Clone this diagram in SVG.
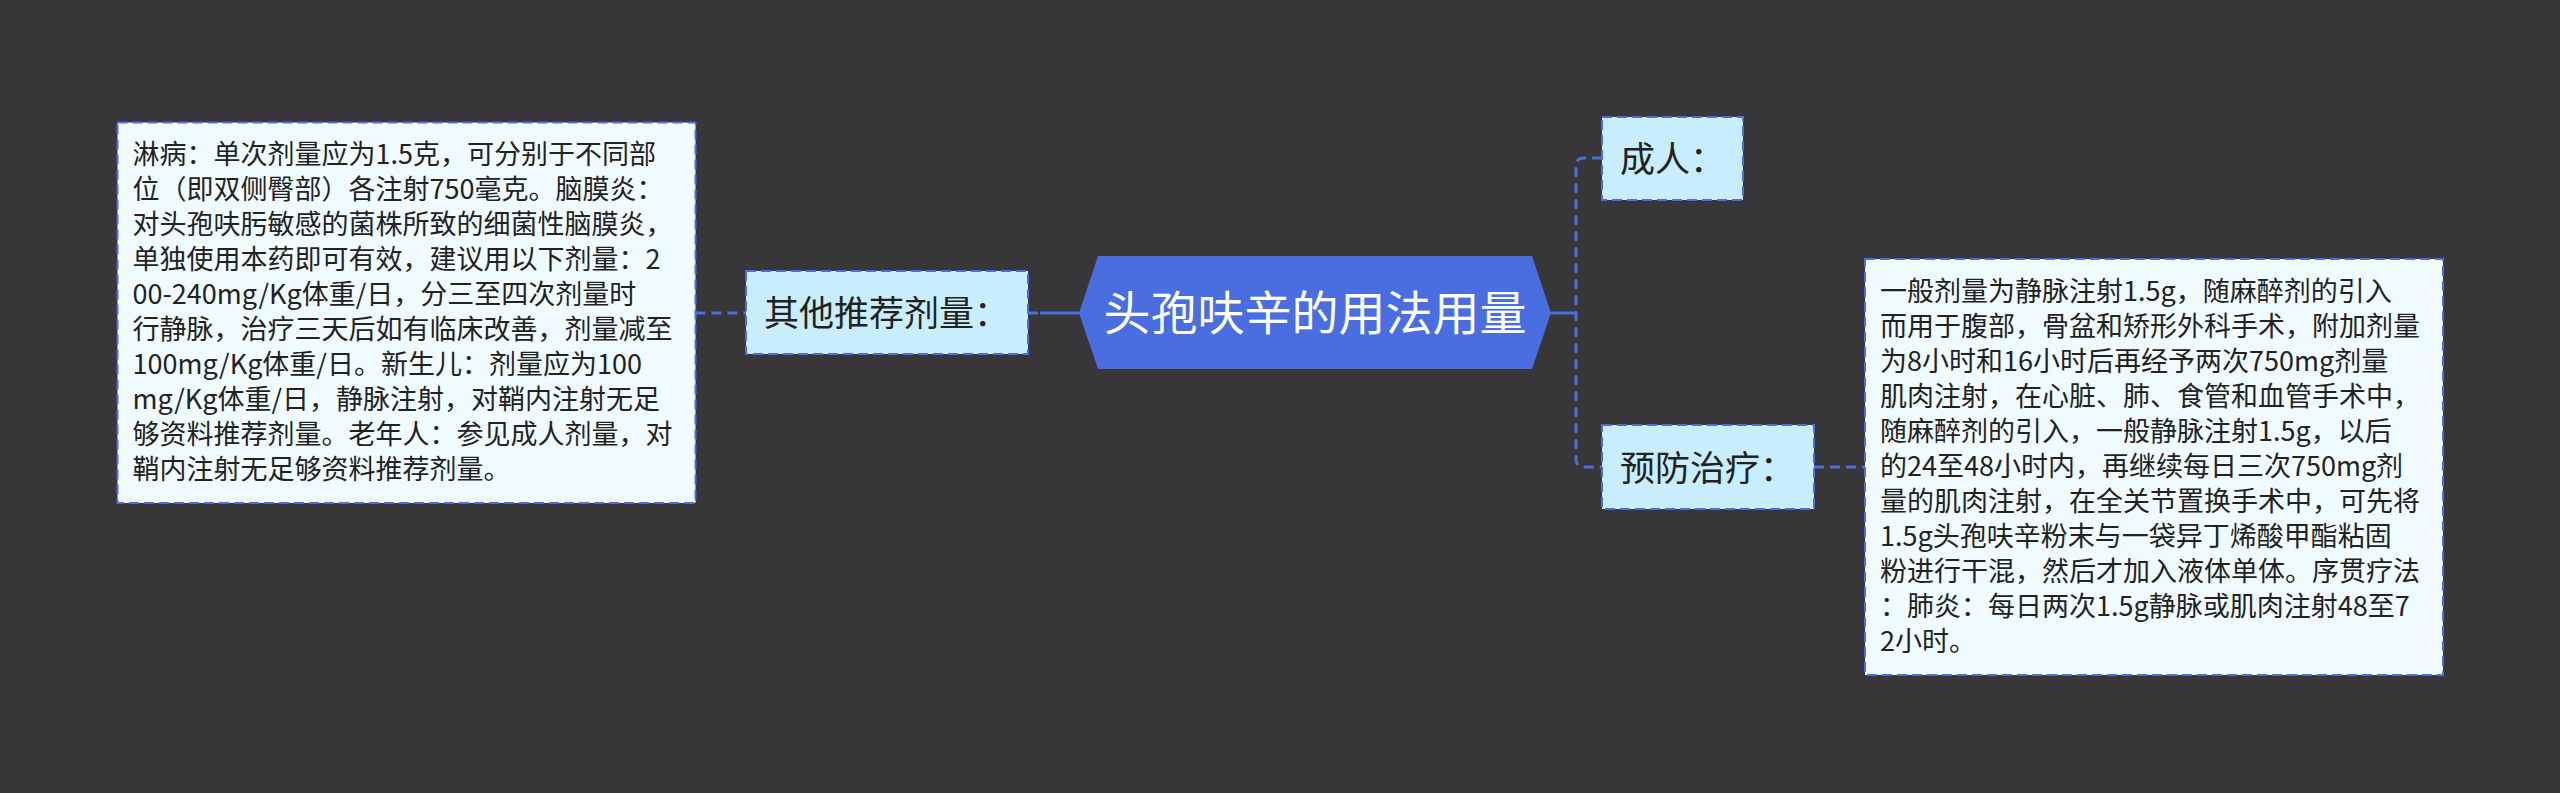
<svg xmlns="http://www.w3.org/2000/svg" width="2560" height="793" viewBox="0 0 2560 793">
<style>
.bg{fill:#383638}
.sub{fill:#c8edfd;stroke:#4b6fde;stroke-width:2;stroke-dasharray:10 5}
.leaf{fill:#f0fbff;stroke:#4b6fde;stroke-width:2;stroke-dasharray:10 5}
.conn{fill:none;stroke:#4b6fde;stroke-width:3;stroke-dasharray:10 6}
.solid{fill:none;stroke:#4b6fde;stroke-width:3}
.t{font-family:"Microsoft YaHei","Noto Sans CJK SC",sans-serif;fill:#222222}
.st{font-size:35px}
.lt{font-size:27px}
.ct{font-family:"Microsoft YaHei","Noto Sans CJK SC",sans-serif;font-size:47px;fill:#ffffff}
</style>
<rect class="bg" x="0" y="0" width="2560" height="793"/>
<g id="connectors">
<path class="conn" d="M695.5,313 H746"/>
<path class="solid" d="M1040,313 H1079"/>
<path class="conn" d="M1028,313 H1040"/>
<path class="solid" d="M1551,313 H1576"/>
<path class="conn" d="M1602,158 H1584 Q1576,158 1576,166 V459 Q1576,467 1584,467 H1602"/>
<path class="conn" d="M1814,467 H1865"/>
</g>
<g id="center">
<polygon points="1079,313 1098,256 1532,256 1551,313 1532,369 1098,369" fill="#4a6ee0"/>
<text class="ct" x="1315" y="330" text-anchor="middle">头孢呋辛的用法用量</text>
</g>
<g id="node-other">
<rect class="sub" x="746" y="271" width="282" height="83"/>
<text class="t st" x="764" y="326">其他推荐剂量：</text>
</g>
<g id="node-other-detail">
<rect class="leaf" x="117.5" y="122.5" width="578" height="380.5"/>
<text class="t lt" x="132.5">
<tspan x="132.5" y="164">淋病：单次剂量应为1.5克，可分别于不同部</tspan>
<tspan x="132.5" y="199">位（即双侧臀部）各注射750毫克。脑膜炎：</tspan>
<tspan x="132.5" y="234">对头孢呋肟敏感的菌株所致的细菌性脑膜炎，</tspan>
<tspan x="132.5" y="269">单独使用本药即可有效，建议用以下剂量：2</tspan>
<tspan x="132.5" y="304">00-240mg/Kg体重/日，分三至四次剂量时</tspan>
<tspan x="132.5" y="339">行静脉，治疗三天后如有临床改善，剂量减至</tspan>
<tspan x="132.5" y="374">100mg/Kg体重/日。新生儿：剂量应为100</tspan>
<tspan x="132.5" y="409">mg/Kg体重/日，静脉注射，对鞘内注射无足</tspan>
<tspan x="132.5" y="444">够资料推荐剂量。老年人：参见成人剂量，对</tspan>
<tspan x="132.5" y="479">鞘内注射无足够资料推荐剂量。</tspan>
</text>
</g>
<g id="node-adult">
<rect class="sub" x="1602" y="117" width="141" height="83"/>
<text class="t st" x="1620" y="172">成人：</text>
</g>
<g id="node-prevent">
<rect class="sub" x="1602" y="425" width="212" height="84"/>
<text class="t st" x="1620" y="481">预防治疗：</text>
</g>
<g id="node-prevent-detail">
<rect class="leaf" x="1865" y="259" width="578" height="416"/>
<text class="t lt">
<tspan x="1880" y="301">一般剂量为静脉注射1.5g，随麻醉剂的引入</tspan>
<tspan x="1880" y="336">而用于腹部，骨盆和矫形外科手术，附加剂量</tspan>
<tspan x="1880" y="371">为8小时和16小时后再经予两次750mg剂量</tspan>
<tspan x="1880" y="406">肌肉注射，在心脏、肺、食管和血管手术中，</tspan>
<tspan x="1880" y="441">随麻醉剂的引入，一般静脉注射1.5g，以后</tspan>
<tspan x="1880" y="476">的24至48小时内，再继续每日三次750mg剂</tspan>
<tspan x="1880" y="511">量的肌肉注射，在全关节置换手术中，可先将</tspan>
<tspan x="1880" y="546">1.5g头孢呋辛粉末与一袋异丁烯酸甲酯粘固</tspan>
<tspan x="1880" y="581">粉进行干混，然后才加入液体单体。序贯疗法</tspan>
<tspan x="1880" y="616">：肺炎：每日两次1.5g静脉或肌肉注射48至7</tspan>
<tspan x="1880" y="651">2小时。</tspan>
</text>
</g>
</svg>
